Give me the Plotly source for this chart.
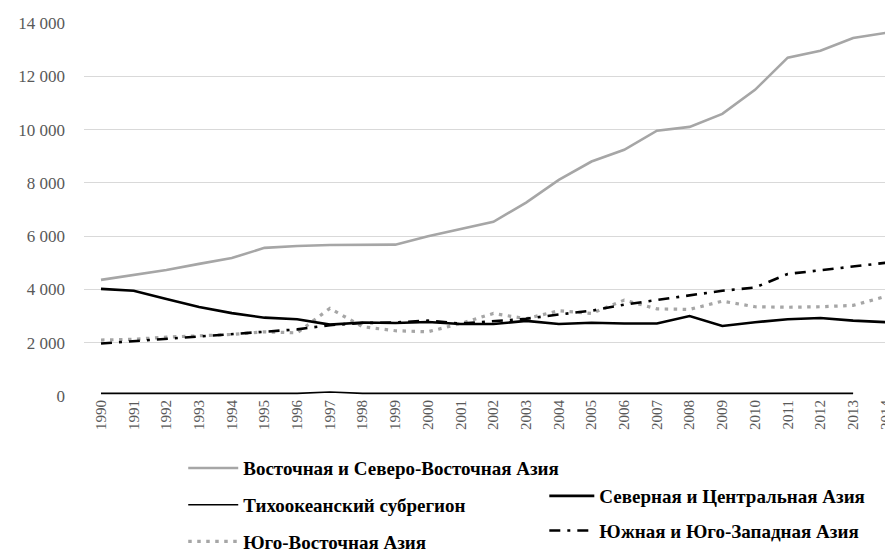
import plotly.graph_objects as go

years = list(range(1990, 2015))

east_ne_asia = [4360, 4540, 4730, 4960, 5180, 5560, 5630, 5670, 5680, 5680, 6000, 6260, 6540,
                7260, 8110, 8800, 9240, 9960, 10100, 10590, 11490, 12700, 12960, 13440, 13630]
north_central_asia = [4020, 3950, 3640, 3340, 3110, 2940, 2880, 2680, 2760, 2740, 2780, 2700, 2700,
                      2820, 2700, 2750, 2720, 2720, 3000, 2630, 2770, 2880, 2930, 2830, 2770]
pacific = [100, 100, 100, 100, 100, 100, 100, 150, 100, 100, 100, 100, 100,
           100, 100, 100, 100, 100, 100, 100, 100, 100, 100, 100, None]
south_sw_asia = [1970, 2060, 2150, 2220, 2310, 2400, 2500, 2660, 2740, 2760, 2830, 2720, 2800,
                 2900, 3060, 3200, 3430, 3600, 3760, 3950, 4070, 4580, 4720, 4860, 5000]
se_asia = [2100, 2130, 2210, 2260, 2310, 2410, 2370, 3290, 2600, 2450, 2410, 2720, 3100,
           2900, 3200, 3100, 3600, 3270, 3250, 3560, 3350, 3330, 3350, 3400, 3740]

names = {
    "east": "Восточная и Северо-Восточная Азия",
    "pac": "Тихоокеанский субрегион",
    "se": "Юго-Восточная Азия",
    "nc": "Северная и Центральная Азия",
    "ssw": "Южная и Юго-Западная Азия",
}

fig = go.Figure()
fig.add_trace(go.Scatter(x=years, y=pacific, mode="lines", name=names["pac"],
                         line=dict(color="#000000", width=1.6), legend="legend", legendrank=2,
                         legendgroup="b"))
fig.add_trace(go.Scatter(x=years, y=se_asia, mode="lines", name=names["se"],
                         line=dict(color="#a6a6a6", width=3.2, dash="3.5px,5.5px"), legend="legend",
                         legendrank=3, legendgroup="c"))
fig.add_trace(go.Scatter(x=years, y=south_sw_asia, mode="lines", name=names["ssw"],
                         line=dict(color="#000000", width=2.6, dash="11px,7px,3px,7px"),
                         legend="legend2", legendrank=2, legendgroup="e"))
fig.add_trace(go.Scatter(x=years, y=north_central_asia, mode="lines", name=names["nc"],
                         line=dict(color="#000000", width=2.6), legend="legend2", legendrank=1,
                         legendgroup="d"))
fig.add_trace(go.Scatter(x=years, y=east_ne_asia, mode="lines", name=names["east"],
                         line=dict(color="#a6a6a6", width=2.6), legend="legend", legendrank=1,
                         legendgroup="a"))

legend_font = dict(family="Liberation Serif", size=19, color="#000000", weight="bold")

fig.update_layout(
    width=885, height=546,
    margin=dict(l=76, r=0, t=15, b=158, autoexpand=False),
    plot_bgcolor="white", paper_bgcolor="white",
    separators=", ",
    showlegend=True,
    legend=dict(x=0.198, y=0.192, xanchor="left", yanchor="top", xref="container",
                yref="container", font=legend_font, bgcolor="rgba(0,0,0,0)",
                traceorder="grouped", tracegroupgap=9, itemwidth=50),
    legend2=dict(x=0.606, y=0.141, xanchor="left", yanchor="top", xref="container",
                 yref="container", font=legend_font, bgcolor="rgba(0,0,0,0)",
                 traceorder="grouped", tracegroupgap=7, itemwidth=45),
    xaxis=dict(range=[1989.48, 2014.22], tickmode="array", tickvals=years,
               ticktext=[str(y) for y in years], tickangle=-90, automargin=False,
               ticklabeloverflow="allow",
               tickfont=dict(family="Liberation Serif", size=15, color="#595959"),
               showgrid=False, zeroline=False, showline=False, ticks=""),
    yaxis=dict(range=[0, 14000], tickvals=list(range(0, 14001, 2000)), tickformat=",d",
               automargin=False,
               tickfont=dict(family="Liberation Serif", size=17, color="#595959"),
               showgrid=True, gridcolor="#d9d9d9", gridwidth=1.2, zeroline=False,
               showline=False, ticks="", ticklabelstandoff=18),
)

fig.write_html("out.html")
